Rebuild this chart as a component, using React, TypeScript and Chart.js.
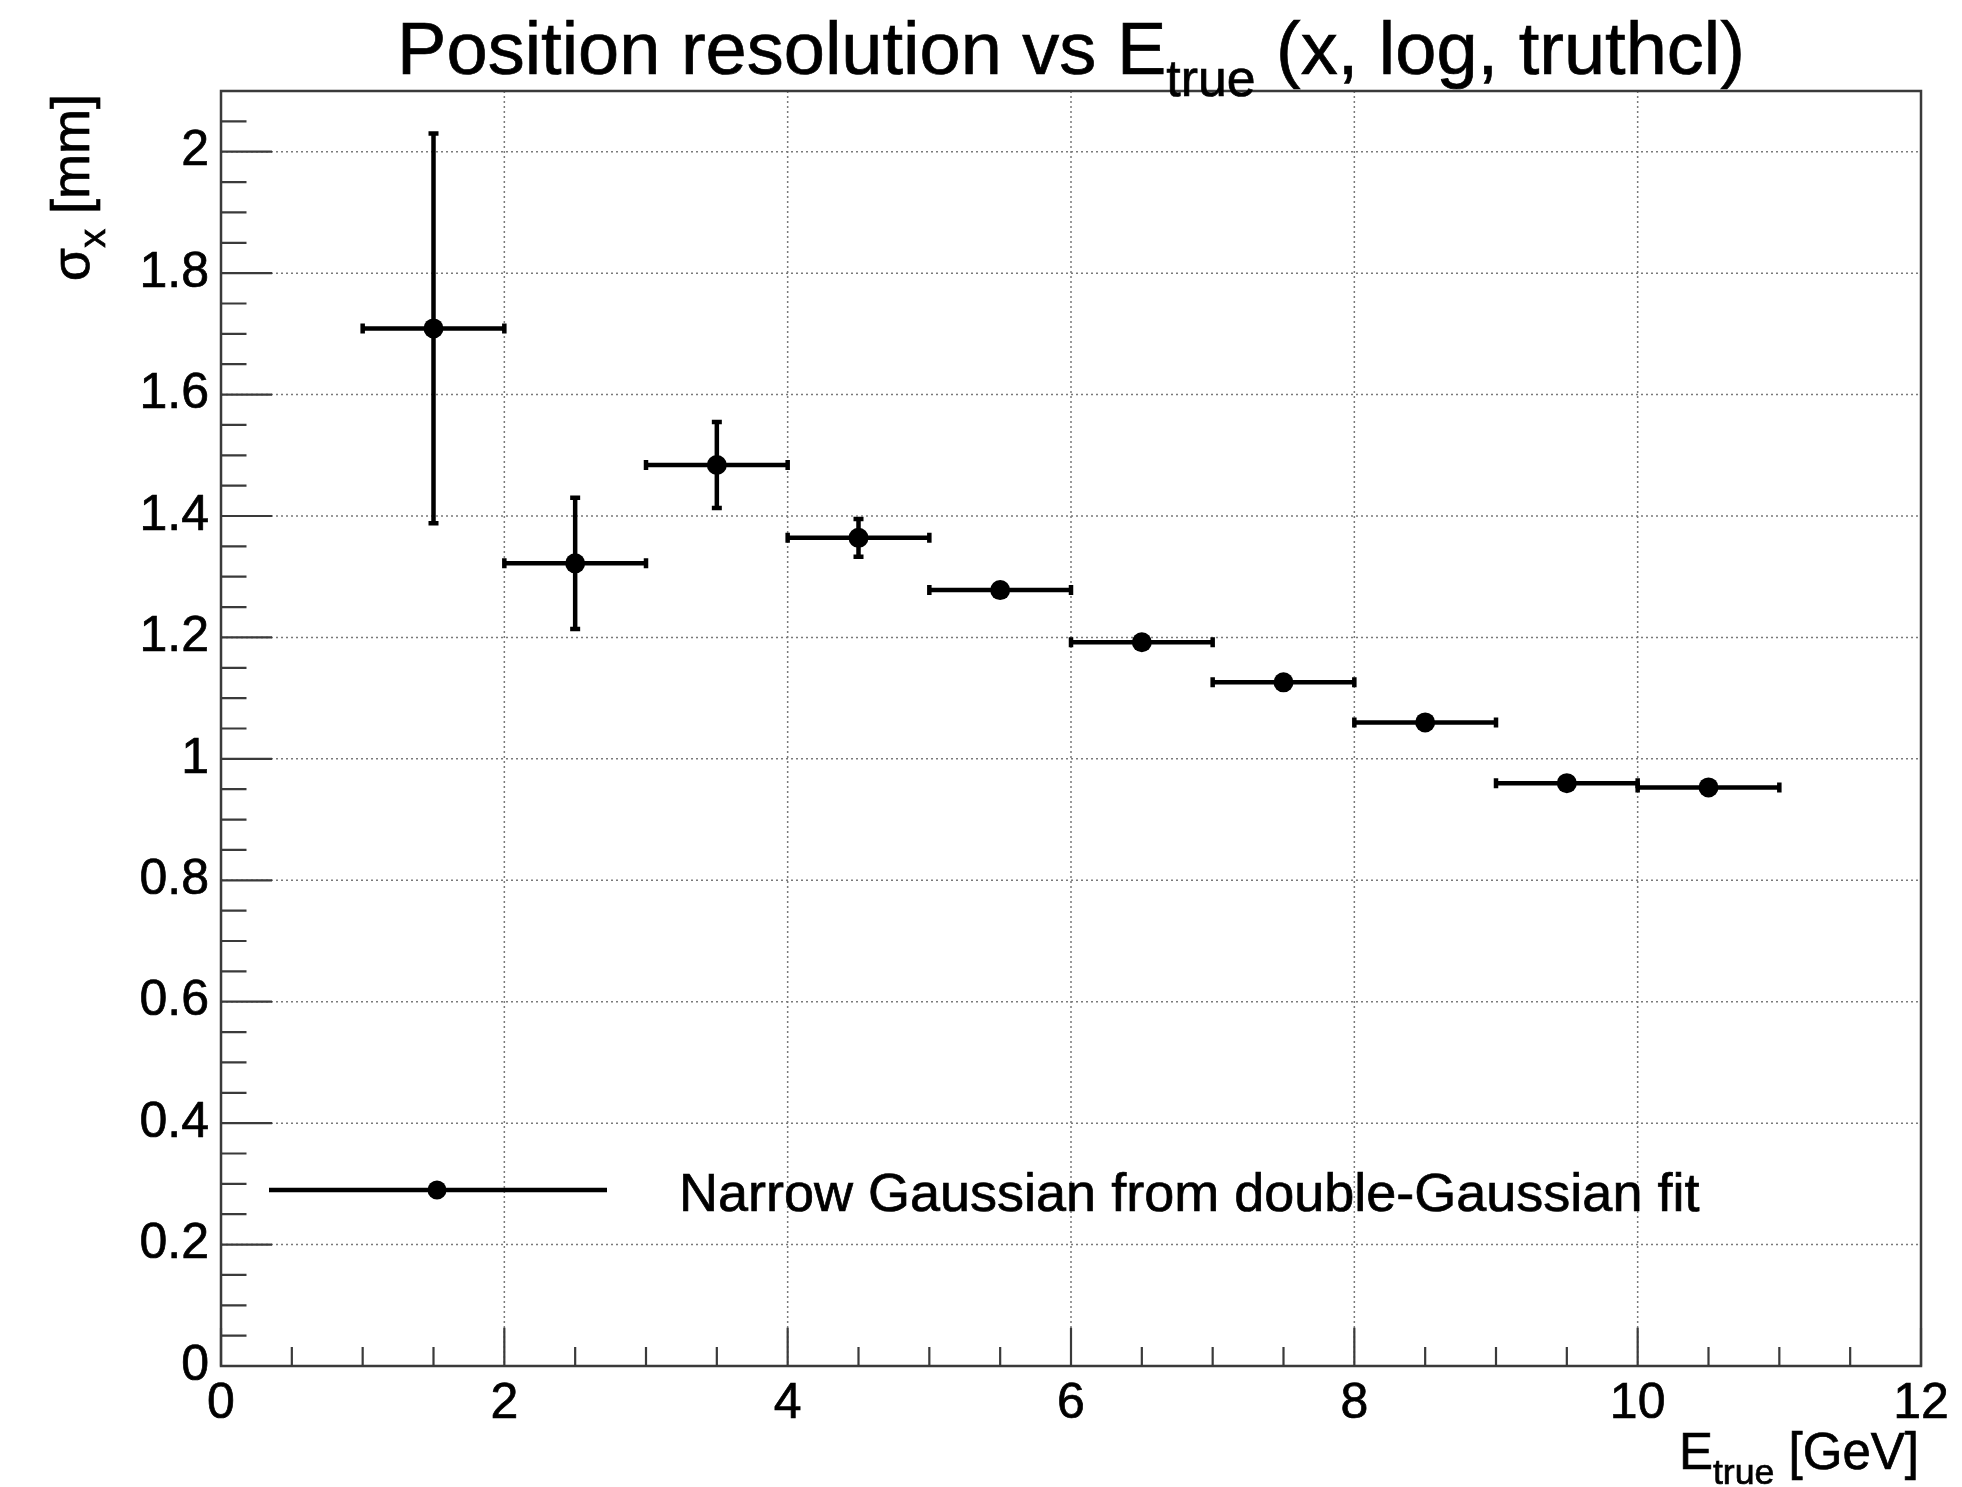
import React, { useEffect, useRef } from "react";
import { Chart, registerables } from "chart.js";

Chart.register(...registerables);

// ---- data ----
const energies = [1.5, 2.5, 3.5, 4.5, 5.5, 6.5, 7.5, 8.5, 9.5, 10.5];
const binHalfWidths = [0.5, 0.5, 0.5, 0.5, 0.5, 0.5, 0.5, 0.5, 0.5, 0.5];
const sigmaX = [1.709, 1.322, 1.484, 1.364, 1.278, 1.192, 1.126, 1.06, 0.96, 0.953];
const sigmaXErr = [0.321, 0.108, 0.071, 0.031, 0.012, 0.009, 0.008, 0.007, 0.007, 0.007];
const xTickValues = [0, 2, 4, 6, 8, 10, 12];
const yTickValues = [0, 0.2, 0.4, 0.6, 0.8, 1, 1.2, 1.4, 1.6, 1.8, 2];
const seriesLabel = "Narrow Gaussian from double-Gaussian fit";
const titleParts = ["Position resolution vs E", "true", " (x, log, truthcl)"];
const xTitleParts = ["E", "true", " [GeV]"];
const yTitleParts = ["\u03c3", "x", " [mm]"];

const FONT = '"Liberation Sans", Arial, Helvetica, sans-serif';
const AXIS_COLOR = "#3a3a3a";
const TEXT_STROKE = 0.7;

function drawSubText(
  ctx: CanvasRenderingContext2D,
  parts: string[],
  size: number,
  x: number,
  y: number,
  align: "left" | "center" | "right"
) {
  const subSize = size * 0.7;
  const subOff = size * 0.3;
  ctx.font = `${size}px ${FONT}`;
  const w0 = ctx.measureText(parts[0]).width;
  const w2 = ctx.measureText(parts[2]).width;
  ctx.font = `${subSize}px ${FONT}`;
  const w1 = ctx.measureText(parts[1]).width;
  const total = w0 + w1 + w2;
  let sx = x;
  if (align === "center") sx = x - total / 2;
  if (align === "right") sx = x - total;
  ctx.textAlign = "left";
  ctx.textBaseline = "alphabetic";
  ctx.fillStyle = "#000";
  ctx.strokeStyle = "#000";
  ctx.lineWidth = TEXT_STROKE;
  const put = (t: string, px: number, py: number) => {
    ctx.fillText(t, px, py);
    ctx.strokeText(t, px, py);
  };
  ctx.font = `${size}px ${FONT}`;
  put(parts[0], sx, y);
  ctx.font = `${subSize}px ${FONT}`;
  put(parts[1], sx + w0, y + subOff);
  ctx.font = `${size}px ${FONT}`;
  put(parts[2], sx + w0 + w1, y);
}

const rootStyle = {
  id: "rootStyle",
  beforeDatasetsDraw(chart: any) {
    const { ctx, chartArea: a, scales } = chart;
    const xs = scales.x;
    const ys = scales.y;
    ctx.save();
    // dotted grid
    ctx.strokeStyle = "#7a7a7a";
    ctx.lineWidth = 1.5;
    ctx.setLineDash([2, 3]);
    xs.ticks.forEach((t: any) => {
      const px = xs.getPixelForValue(t.value);
      if (px <= a.left + 1 || px >= a.right - 1) return;
      ctx.beginPath();
      ctx.moveTo(px, a.top);
      ctx.lineTo(px, a.bottom);
      ctx.stroke();
    });
    ys.ticks.forEach((t: any) => {
      const py = ys.getPixelForValue(t.value);
      if (py <= a.top + 1 || py >= a.bottom - 1) return;
      ctx.beginPath();
      ctx.moveTo(a.left, py);
      ctx.lineTo(a.right, py);
      ctx.stroke();
    });
    ctx.setLineDash([]);
    // error bars
    ctx.strokeStyle = "#000";
    ctx.lineWidth = 4.5;
    const cap = 5;
    energies.forEach((e, i) => {
      const px = xs.getPixelForValue(e);
      const py = ys.getPixelForValue(sigmaX[i]);
      const xl = xs.getPixelForValue(e - binHalfWidths[i]);
      const xr = xs.getPixelForValue(e + binHalfWidths[i]);
      const yt = ys.getPixelForValue(sigmaX[i] + sigmaXErr[i]);
      const yb = ys.getPixelForValue(sigmaX[i] - sigmaXErr[i]);
      ctx.beginPath();
      ctx.moveTo(xl, py);
      ctx.lineTo(xr, py);
      ctx.moveTo(xl, py - cap);
      ctx.lineTo(xl, py + cap);
      ctx.moveTo(xr, py - cap);
      ctx.lineTo(xr, py + cap);
      if (py - yt > 10) {
        ctx.moveTo(px, yt);
        ctx.lineTo(px, yb);
        ctx.moveTo(px - cap, yt);
        ctx.lineTo(px + cap, yt);
        ctx.moveTo(px - cap, yb);
        ctx.lineTo(px + cap, yb);
      }
      ctx.stroke();
    });
    ctx.restore();
  },
  afterDraw(chart: any) {
    const { ctx, chartArea: a, scales } = chart;
    const xs = scales.x;
    const ys = scales.y;
    ctx.save();
    // ticks (ROOT style, inward)
    ctx.strokeStyle = AXIS_COLOR;
    ctx.lineWidth = 2.2;
    const plotW = a.right - a.left;
    const plotH = a.bottom - a.top;
    const yMaj = 0.03 * plotW;
    const xMaj = 0.03 * plotH;
    ctx.beginPath();
    for (let v = 0; v <= 12.0001; v += 0.5) {
      const px = xs.getPixelForValue(v);
      const major = Math.abs(v / 2 - Math.round(v / 2)) < 1e-6;
      const len = major ? xMaj : xMaj / 2;
      ctx.moveTo(px, a.bottom);
      ctx.lineTo(px, a.bottom - len);
    }
    for (let v = 0; v <= 2.1001; v += 0.05) {
      const py = ys.getPixelForValue(v);
      const major = Math.abs(v / 0.2 - Math.round(v / 0.2)) < 1e-6;
      const len = major ? yMaj : yMaj / 2;
      ctx.moveTo(a.left, py);
      ctx.lineTo(a.left + len, py);
    }
    ctx.stroke();
    // frame
    ctx.lineWidth = 2.5;
    ctx.strokeRect(a.left, a.top, plotW, plotH);

    // title
    drawSubText(ctx, titleParts, 74, (a.left + a.right) / 2, 74, "center");
    // x title
    drawSubText(ctx, xTitleParts, 51, a.right - 2, 1469, "right");
    // y title (rotated)
    ctx.save();
    ctx.translate(89, 94);
    ctx.rotate(-Math.PI / 2);
    drawSubText(ctx, yTitleParts, 54, 0, 0, "right");
    ctx.restore();

    // legend
    const ly = 1190;
    ctx.strokeStyle = "#000";
    ctx.lineWidth = 4.5;
    ctx.beginPath();
    ctx.moveTo(269, ly);
    ctx.lineTo(607, ly);
    ctx.stroke();
    ctx.fillStyle = "#000";
    ctx.beginPath();
    ctx.arc(437, ly, 9.5, 0, Math.PI * 2);
    ctx.fill();
    ctx.font = `54px ${FONT}`;
    ctx.textAlign = "left";
    ctx.textBaseline = "alphabetic";
    ctx.lineWidth = TEXT_STROKE;
    const lbl = chart.data.datasets[0].label;
    ctx.fillText(lbl, 679, 1211);
    ctx.strokeText(lbl, 679, 1211);
    ctx.restore();
  },
};

export default function App() {
  const ref = useRef<HTMLCanvasElement | null>(null);
  useEffect(() => {
    if (!ref.current) return;
    const chart = new Chart(ref.current, {
      type: "scatter",
      data: {
        datasets: [
          {
            label: seriesLabel,
            data: energies.map((e, i) => ({ x: e, y: sigmaX[i] })),
            pointRadius: 10,
            pointHoverRadius: 10,
            backgroundColor: "#000",
            borderColor: "#000",
            borderWidth: 0,
            showLine: false,
          },
        ],
      },
      options: {
        responsive: false,
        animation: false,
        devicePixelRatio: 1,
        layout: { padding: { left: 0, top: 91, right: 41, bottom: 0 } },
        plugins: {
          legend: { display: false },
          title: { display: false },
          tooltip: { enabled: false },
        },
        scales: {
          x: {
            type: "linear",
            min: xTickValues[0],
            max: xTickValues[xTickValues.length - 1],
            grid: { display: false, drawTicks: false },
            border: { display: false },
            afterFit: (s: any) => {
              s.height = 121;
            },
            afterBuildTicks: (s: any) => {
              s.ticks = xTickValues.map((v) => ({ value: v }));
            },
            ticks: {
              padding: 8,
              color: "#000",
              textStrokeColor: "#000",
              textStrokeWidth: TEXT_STROKE,
              font: { family: FONT, size: 50 },
              maxRotation: 0,
              autoSkip: false,
              callback: (v: any) => String(v),
            },
          },
          y: {
            type: "linear",
            min: 0,
            max: 2.1,
            grid: { display: false, drawTicks: false },
            border: { display: false },
            afterFit: (s: any) => {
              s.width = 221;
            },
            afterBuildTicks: (s: any) => {
              s.ticks = yTickValues.map((v) => ({ value: v }));
            },
            ticks: {
              padding: 12,
              color: "#000",
              textStrokeColor: "#000",
              textStrokeWidth: TEXT_STROKE,
              font: { family: FONT, size: 50 },
              autoSkip: false,
              callback: (v: any) => String(+Number(v).toFixed(2)),
            },
          },
        },
      },
      plugins: [rootStyle],
    });
    return () => chart.destroy();
  }, []);
  return (
    <div style={{ position: "fixed", left: 0, top: 0, width: 1962, height: 1487, background: "#fff" }}>
      <canvas ref={ref} width={1962} height={1487} />
    </div>
  );
}
